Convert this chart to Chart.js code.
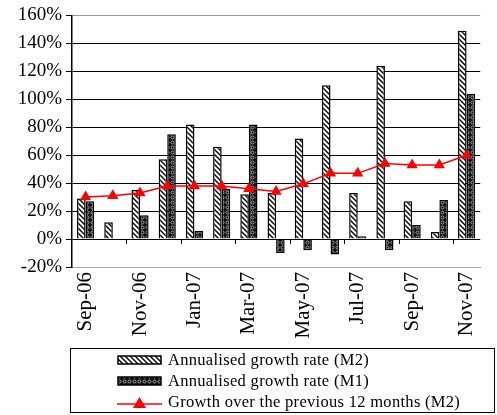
<!DOCTYPE html>
<html>
<head>
<meta charset="utf-8">
<script src="https://cdn.jsdelivr.net/npm/chart.js@4/dist/chart.umd.min.js"></script>
<style>
  html, body { margin: 0; padding: 0; background: #fff; }
  #wrap { position: relative; width: 497px; height: 415px; }
  #legend {
    position: absolute; left: 70px; top: 348px; width: 425px; height: 65px;
    border: 1px solid #000; box-sizing: border-box;
    font-family: "Liberation Serif", serif; font-size: 16.5px; color: #000;
    letter-spacing: 0.3px;
  }
  .row { position: absolute; left: 46px; height: 20px; display: flex; align-items: center; }
  .row canvas { margin-right: 6px; }
</style>
</head>
<body>
<div id="wrap">
  <canvas id="chart" width="497" height="415"></canvas>
  <div id="legend"></div>
</div>
<script>
// データ
const months = ['Sep-06', 'Oct-06', 'Nov-06', 'Dec-06', 'Jan-07', 'Feb-07', 'Mar-07', 'Apr-07',
  'May-07', 'Jun-07', 'Jul-07', 'Aug-07', 'Sep-07', 'Oct-07', 'Nov-07'];
const annualM2 = [29, 12, 35, 57, 82, 66, 32, 33, 72, 110, 33, 124, 27, 5, 149];
const annualM1 = [27, null, 17, 75, 6, 36, 82, -10, -8, -11, 2, -8, 10, 28, 104];
const growth12m = [30, 31, 33, 38, 38, 38, 36, 34, 39.5, 47, 47, 54, 53, 53, 60];
const seriesNames = ['Annualised growth rate (M2)', 'Annualised growth rate (M1)', 'Growth over the previous 12 months (M2)'];

// 斜線パターン（M2）
function hatchPattern() {
  const c = document.createElement('canvas');
  c.width = 5; c.height = 5;
  const g = c.getContext('2d');
  g.fillStyle = '#fff';
  g.fillRect(0, 0, 5, 5);
  g.strokeStyle = '#000';
  g.lineWidth = 1.4;
  g.beginPath();
  g.moveTo(-1, -1); g.lineTo(6, 6);
  g.moveTo(-1, 4); g.lineTo(1, 6);
  g.moveTo(4, -1); g.lineTo(6, 1);
  g.stroke();
  return g.createPattern(c, 'repeat');
}

// 点模様パターン（M1）
function dotPattern() {
  const c = document.createElement('canvas');
  c.width = 5; c.height = 5;
  const g = c.getContext('2d');
  g.fillStyle = '#111';
  g.fillRect(0, 0, 5, 5);
  g.strokeStyle = '#bbb';
  g.lineWidth = 0.8;
  g.beginPath();
  g.arc(2.5, 2.5, 1.5, 0, Math.PI * 2);
  g.stroke();
  return g.createPattern(c, 'repeat');
}

const m2Fill = hatchPattern();
const m1Fill = dotPattern();

// ゼロ線の目盛り
const zeroTicks = {
  id: 'zeroTicks',
  afterDatasetsDraw(chart) {
    const x = chart.scales.x, y = chart.scales.y;
    const ctx = chart.ctx;
    const half = (x.getPixelForValue(1) - x.getPixelForValue(0)) / 2;
    const y0 = y.getPixelForValue(0);
    ctx.save();
    ctx.strokeStyle = '#000';
    ctx.lineWidth = 1;
    for (let i = 2; i < months.length; i += 2) {
      const px = Math.round(x.getPixelForValue(i) - half) + 0.5;
      ctx.beginPath();
      ctx.moveTo(px, y0);
      ctx.lineTo(px, y0 + 5);
      ctx.stroke();
    }
    ctx.restore();
  }
};

const chart = new Chart(document.getElementById('chart'), {
  data: {
    labels: months,
    datasets: [
      {
        type: 'line', label: seriesNames[2], data: growth12m, order: 0,
        borderColor: '#ff0000', backgroundColor: '#ff0000', borderWidth: 1.5,
        pointStyle: 'triangle', pointRadius: 6.5, pointBorderWidth: 0, tension: 0
      },
      {
        type: 'bar', label: seriesNames[0], data: annualM2, order: 1,
        backgroundColor: m2Fill, borderColor: '#000', borderWidth: 1.5,
        categoryPercentage: 0.63, barPercentage: 1
      },
      {
        type: 'bar', label: seriesNames[1], data: annualM1, order: 1,
        backgroundColor: m1Fill, borderColor: '#000', borderWidth: 1.5,
        categoryPercentage: 0.63, barPercentage: 1
      }
    ]
  },
  options: {
    responsive: false,
    animation: false,
    layout: { padding: { top: 15, right: 0, left: 0, bottom: 0 } },
    plugins: { legend: { display: false }, tooltip: { enabled: false } },
    scales: {
      x: {
        grid: { display: false, drawTicks: false },
        border: { display: true, color: '#aaa', width: 1 },
        ticks: {
          autoSkip: false, minRotation: 90, maxRotation: 90, padding: 5, color: '#000',
          font: { family: 'Liberation Serif', size: 21 },
          callback: (v, i) => (i % 2 === 0 ? months[i] : '')
        },
        afterFit: (s) => { s.height = 148; }
      },
      y: {
        min: -20, max: 160,
        grid: {
          color: (c) => (c.tick.value === 160 ? '#999' : c.tick.value === -20 ? '#aaa' : '#000'),
          tickColor: '#000', tickLength: 6, lineWidth: 1
        },
        border: { display: true, color: '#000', width: 1.5 },
        ticks: {
          stepSize: 20, padding: 4, color: '#000',
          font: { family: 'Liberation Serif', size: 19 },
          callback: (v) => v + '%'
        },
        afterFit: (s) => { s.width = 72; }
      }
    }
  },
  plugins: [zeroTicks]
});

// 凡例
const legend = document.getElementById('legend');
const rowTops = [1, 22, 43];
[m2Fill, m1Fill, null].forEach((fill, i) => {
  const row = document.createElement('div');
  row.className = 'row';
  row.style.top = rowTops[i] + 'px';
  const sw = document.createElement('canvas');
  sw.width = 45; sw.height = 14;
  const g = sw.getContext('2d');
  if (fill) {
    const pat = i === 0 ? hatchPattern() : dotPattern();
    g.fillStyle = pat;
    g.fillRect(1, 3, 43, 8);
    g.strokeStyle = '#000';
    g.lineWidth = 1.5;
    g.strokeRect(1, 3, 43, 8);
  } else {
    g.strokeStyle = '#ff0000';
    g.lineWidth = 1.5;
    g.beginPath(); g.moveTo(0, 9); g.lineTo(45, 9); g.stroke();
    g.fillStyle = '#ff0000';
    g.beginPath(); g.moveTo(22.5, 2); g.lineTo(29, 13); g.lineTo(16, 13); g.closePath(); g.fill();
  }
  row.appendChild(sw);
  const t = document.createElement('span');
  t.textContent = seriesNames[i];
  row.appendChild(t);
  legend.appendChild(row);
});
</script>
</body>
</html>
